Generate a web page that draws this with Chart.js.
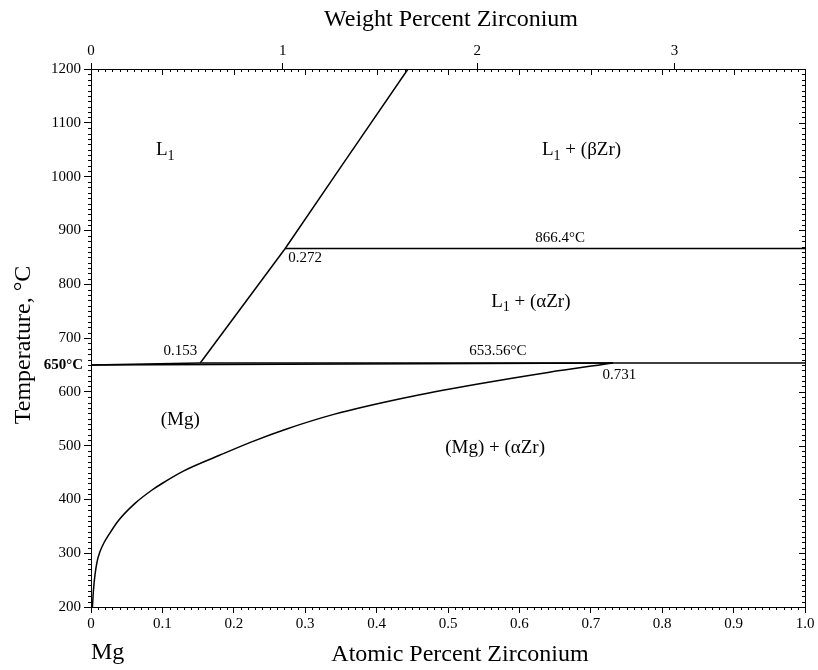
<!DOCTYPE html>
<html>
<head>
<meta charset="utf-8">
<script src="https://cdn.jsdelivr.net/npm/chart.js@4"></script>
<style>
  html, body { margin: 0; padding: 0; background: #fff; }
</style>
</head>
<body>
<canvas id="phaseChart" width="818" height="670"></canvas>
<script>
// Mg-Zr phase diagram, atomic % Zr vs temperature (°C)
const solvusAt = [0.002, 0.0035, 0.0056, 0.009, 0.0126, 0.018, 0.0243, 0.038, 0.062, 0.085, 0.1, 0.13, 0.18, 0.225, 0.272, 0.34, 0.44, 0.54, 0.64, 0.731];
const solvusT  = [200, 232, 260, 287, 303, 319, 333, 360, 393, 417, 430, 453, 482, 507, 530, 558, 589, 614, 636, 653.56];

const liqUpperAt = [0.272, 0.35, 0.444];
const liqUpperT  = [866.4, 1018, 1200];

const liqLowerAt = [0.153, 0.272];
const liqLowerT  = [653.56, 866.4];

const mgLiquidusAt = [0, 0.153];
const mgLiquidusT  = [650, 653.56];

const mgSolidusAt = [0, 0.731];
const mgSolidusT  = [650, 653.56];

const peritecticAt = [0.153, 1.0];
const peritecticT  = [653.56, 653.56];

const upperAt = [0.272, 1.0];
const upperT  = [866.4, 866.4];

// tick labels
const atomicTicks = [0, 0.1, 0.2, 0.3, 0.4, 0.5, 0.6, 0.7, 0.8, 0.9, 1.0];
const weightTicks = [0, 1, 2, 3];

const SERIF = '"Liberation Serif", "Times New Roman", serif';

// weight % Zr -> atomic % Zr
function wtToAt(w) {
  const zr = w / 91.224, mg = (100 - w) / 24.305;
  return zr / (zr + mg) * 100;
}

function pts(xs, ys) {
  return xs.map((v, i) => ({ x: v, y: ys[i] }));
}

function line(xs, ys, smooth) {
  return {
    data: pts(xs, ys),
    showLine: true,
    borderColor: '#000',
    borderWidth: 1.5,
    pointRadius: 0,
    fill: false,
    cubicInterpolationMode: smooth ? 'monotone' : 'default',
    tension: 0
  };
}

// text on the diagram, in data coordinates
const notes = [
  { parts: [['L'], ['1', 'sub']], x: 0.104, t: 1049, size: 19 },
  { parts: [['L'], ['1', 'sub'], [' + (βZr)']], x: 0.687, t: 1049, size: 19 },
  { parts: [['866.4°C']], x: 0.657, t: 886, size: 15 },
  { parts: [['0.272']], x: 0.300, t: 848, size: 15 },
  { parts: [['L'], ['1', 'sub'], [' + (αZr)']], x: 0.616, t: 767, size: 19 },
  { parts: [['0.153']], x: 0.125, t: 675, size: 15 },
  { parts: [['653.56°C']], x: 0.570, t: 675, size: 15 },
  { parts: [['0.731']], x: 0.740, t: 631, size: 15 },
  { parts: [['(Mg)']], x: 0.125, t: 548, size: 19 },
  { parts: [['(Mg) + (αZr)']], x: 0.566, t: 495, size: 19 }
];

function drawNote(ctx, n, px, py) {
  const subSize = Math.round(n.size * 0.72);
  let total = 0;
  n.parts.forEach(p => {
    ctx.font = (p[1] === 'sub' ? subSize : n.size) + 'px ' + SERIF;
    total += ctx.measureText(p[0]).width;
  });
  let cx = px - total / 2;
  ctx.textAlign = 'left';
  ctx.textBaseline = 'middle';
  n.parts.forEach(p => {
    const sub = p[1] === 'sub';
    ctx.font = (sub ? subSize : n.size) + 'px ' + SERIF;
    ctx.fillText(p[0], cx, sub ? py + n.size * 0.3 : py);
    cx += ctx.measureText(p[0]).width;
  });
}

const decor = {
  id: 'decor',
  afterDraw(chart) {
    const ctx = chart.ctx;
    const xs = chart.scales.x, ys = chart.scales.y;
    const a = chart.chartArea;
    ctx.save();
    ctx.strokeStyle = '#000';
    ctx.lineWidth = 1;
    ctx.beginPath();
    // minor ticks along atomic axis
    for (let i = 0; i <= 100; i++) {
      const px = Math.round(xs.getPixelForValue(i / 100)) + 0.5;
      const major = i % 10 === 0;
      ctx.moveTo(px, a.top);
      ctx.lineTo(px, a.top + (major ? 6 : 3));
      if (!major) {
        ctx.moveTo(px, a.bottom);
        ctx.lineTo(px, a.bottom + 3);
      }
    }
    // minor ticks along temperature
    for (let t = 200; t <= 1200; t += 10) {
      const py = Math.round(ys.getPixelForValue(t)) + 0.5;
      const major = t % 100 === 0;
      if (!major) {
        ctx.moveTo(a.left, py);
        ctx.lineTo(a.left - 3, py);
      }
      ctx.moveTo(a.right, py);
      ctx.lineTo(a.right - (major ? 6 : 3), py);
    }
    ctx.stroke();

    ctx.fillStyle = '#000';
    notes.forEach(n => drawNote(ctx, n, xs.getPixelForValue(n.x), ys.getPixelForValue(n.t)));

    // 650°C marker on the left
    ctx.font = 'bold 15px ' + SERIF;
    ctx.textAlign = 'right';
    ctx.textBaseline = 'middle';
    ctx.fillText('650°C', 83, ys.getPixelForValue(650));

    // axis titles
    ctx.font = '24px ' + SERIF;
    ctx.textAlign = 'center';
    ctx.fillText('Weight Percent Zirconium', 451, 20);
    ctx.fillText('Atomic Percent Zirconium', 460, 655);
    ctx.textAlign = 'left';
    ctx.fillText('Mg', 91, 653);

    ctx.save();
    ctx.translate(24, 345);
    ctx.rotate(-Math.PI / 2);
    ctx.textAlign = 'center';
    ctx.fillText('Temperature, °C', 0, 0);
    ctx.restore();

    ctx.restore();
  }
};

const tickFont = { family: SERIF, size: 15 };

new Chart(document.getElementById('phaseChart'), {
  type: 'scatter',
  data: {
    datasets: [
      line(solvusAt, solvusT, true),
      line(liqUpperAt, liqUpperT, false),
      line(liqLowerAt, liqLowerT, false),
      line(mgLiquidusAt, mgLiquidusT, false),
      line(mgSolidusAt, mgSolidusT, false),
      line(peritecticAt, peritecticT, false),
      line(upperAt, upperT, false)
    ]
  },
  options: {
    responsive: false,
    animation: false,
    devicePixelRatio: 1,
    layout: { padding: 0 },
    plugins: { legend: { display: false }, tooltip: { enabled: false } },
    scales: {
      x: {
        type: 'linear', position: 'bottom', min: 0, max: 1,
        afterBuildTicks: s => { s.ticks = atomicTicks.map(v => ({ value: v })); },
        ticks: {
          autoSkip: false, maxRotation: 0, padding: 2, color: '#000', font: tickFont,
          callback: v => (v === 0 ? '0' : v.toFixed(1))
        },
        grid: { drawOnChartArea: false, tickLength: 6, color: '#000' },
        border: { color: '#000', width: 1 },
        afterFit: s => { s.height = 63; }
      },
      x2: {
        type: 'linear', position: 'top', min: 0, max: 1,
        afterBuildTicks: s => { s.ticks = weightTicks.map(w => ({ value: wtToAt(w) })); },
        ticks: {
          autoSkip: false, maxRotation: 0, padding: 3, color: '#000', font: tickFont,
          callback: (v, i) => String(weightTicks[i])
        },
        grid: { drawOnChartArea: false, tickLength: 6, color: '#000' },
        border: { color: '#000', width: 1 },
        afterFit: s => { s.height = 69; }
      },
      y: {
        type: 'linear', position: 'left', min: 200, max: 1200,
        ticks: { stepSize: 100, padding: 3, color: '#000', font: tickFont, callback: v => String(v) },
        grid: { drawOnChartArea: false, tickLength: 7, color: '#000' },
        border: { color: '#000', width: 1 },
        afterFit: s => { s.width = 91; }
      },
      y2: {
        type: 'linear', position: 'right', min: 200, max: 1200,
        ticks: { display: false },
        grid: { display: false },
        border: { display: true, color: '#000', width: 1 },
        afterFit: s => { s.width = 13; }
      }
    }
  },
  plugins: [decor]
});
</script>
</body>
</html>
